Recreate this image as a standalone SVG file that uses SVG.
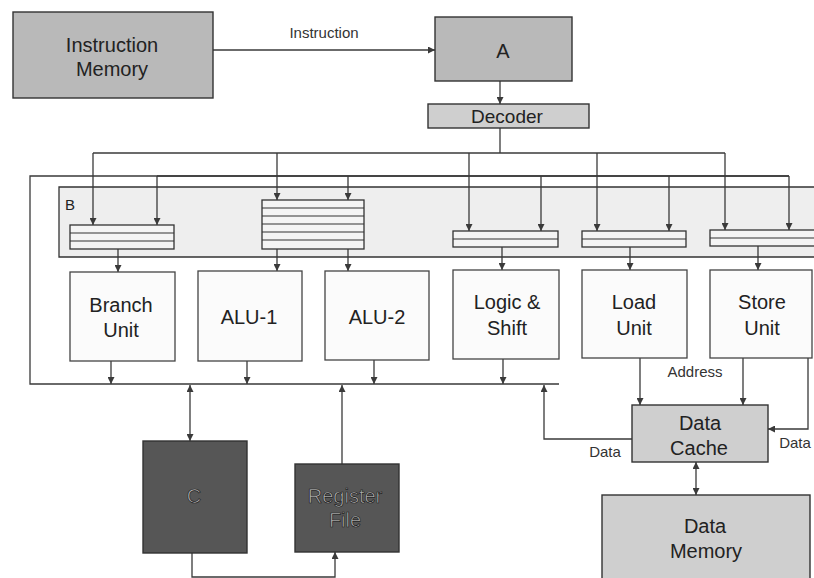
<svg xmlns="http://www.w3.org/2000/svg" width="814" height="578" viewBox="0 0 814 578">
<defs>
<marker id="ah" viewBox="0 0 10 10" refX="10" refY="5" markerWidth="7" markerHeight="7" markerUnits="userSpaceOnUse" orient="auto-start-reverse">
<path d="M0,0 L10,5 L0,10 z" fill="#3a3a3a"/>
</marker>
</defs>
<style>
.box{stroke:#333;stroke-width:1.4}
.mid{fill:#b9b9b9}
.light{fill:#cfcfcf}
.dark{fill:#565656}
.unit{fill:#fbfbfb;stroke:#444;stroke-width:1.3}
.stack{fill:#f4f4f4;stroke:#333;stroke-width:1.3}
.row{stroke:#333;stroke-width:1.2;fill:none}
.ln{fill:none;stroke:#3a3a3a;stroke-width:1.3}
.arr{fill:none;stroke:#3a3a3a;stroke-width:1.3;marker-end:url(#ah)}
.bi{fill:none;stroke:#3a3a3a;stroke-width:1.3;marker-start:url(#ah);marker-end:url(#ah)}
text{font-family:"Liberation Sans",Arial,sans-serif;text-anchor:middle;fill:#222}
.big{font-size:20px}
.lbl{font-size:15px;fill:#333}
.dk{fill:#b4b4b4;stroke:#1e1e1e;stroke-width:0.7}
</style>

<g id="outer">
<path class="ln" d="M559,384 H30 V176 H789"/>
</g>

<g id="B">
<path d="M814,187 H59 V257 H814" fill="#eeeeee" stroke="#333" stroke-width="1.3"/>
<text x="70" y="210" style="font-size:15px" fill="#333">B</text>
</g>

<g id="stack-branch">
<rect class="stack" x="70" y="225" width="104" height="24"/>
<path class="row" d="M70,233 H174 M70,241 H174"/>
</g>
<g id="stack-alu">
<rect class="stack" x="262" y="200" width="102" height="49"/>
<path class="row" d="M262,208 H364 M262,216 H364 M262,224 H364 M262,232 H364 M262,240 H364"/>
</g>
<g id="stack-logic">
<rect class="stack" x="453" y="231" width="105" height="16"/>
<path class="row" d="M453,239 H558"/>
</g>
<g id="stack-load">
<rect class="stack" x="582" y="231" width="104" height="16"/>
<path class="row" d="M582,239 H686"/>
</g>
<g id="stack-store">
<rect class="stack" x="710" y="230" width="110" height="16"/>
<path class="row" d="M710,238 H820"/>
</g>

<g id="connectors">
<path class="arr" d="M213,50 H435"/>
<path class="arr" d="M500,81 V104"/>
<path class="ln" d="M500,128 V153"/>
<path class="ln" d="M93,153 H725"/>
<path class="arr" d="M93,153 V225"/>
<path class="arr" d="M277,153 V200"/>
<path class="arr" d="M469,153 V231"/>
<path class="arr" d="M597,153 V231"/>
<path class="arr" d="M725,153 V230"/>
<path class="ln" d="M157,176 H789"/>
<path class="arr" d="M157,176 V225"/>
<path class="arr" d="M348,176 V200"/>
<path class="arr" d="M541,176 V231"/>
<path class="arr" d="M669,176 V231"/>
<path class="arr" d="M789,176 V230"/>
<path class="arr" d="M118,249 V272"/>
<path class="arr" d="M277,249 V271"/>
<path class="arr" d="M348,249 V271"/>
<path class="arr" d="M502,247 V270"/>
<path class="arr" d="M630,247 V270"/>
<path class="arr" d="M758,246 V270"/>
<path class="arr" d="M111,361 V384"/>
<path class="arr" d="M247,361 V384"/>
<path class="arr" d="M374,360 V384"/>
<path class="arr" d="M503,359 V384"/>
<path class="bi" d="M190,385 V441"/>
<path class="arr" d="M342,464 V385"/>
<path class="arr" d="M192,553 V577 H335 V552"/>
<path class="arr" d="M640,358 V405"/>
<path class="arr" d="M743,358 V405"/>
<path class="arr" d="M808,358 V429 H768"/>
<path class="arr" d="M632,439 H544 V385"/>
<path class="bi" d="M696,462 V495"/>
<text class="lbl" x="324" y="38">Instruction</text>
<text class="lbl" x="695" y="377">Address</text>
<text class="lbl" x="605" y="457">Data</text>
<text class="lbl" x="795" y="448">Data</text>
</g>

<g id="instruction-memory">
<rect class="box mid" x="13" y="12" width="200" height="86"/>
<text class="big" x="112" y="52">Instruction</text>
<text class="big" x="112" y="76">Memory</text>
</g>
<g id="A">
<rect class="box mid" x="435" y="17" width="137" height="64"/>
<text class="big" x="503" y="58">A</text>
</g>
<g id="decoder">
<rect class="box light" x="428" y="104" width="161" height="24"/>
<text x="507" y="123" style="font-size:19px">Decoder</text>
</g>

<g id="branch-unit">
<rect class="unit" x="70" y="272" width="105" height="89"/>
<text class="big" x="121" y="312">Branch</text>
<text class="big" x="121" y="337">Unit</text>
</g>
<g id="alu-1">
<rect class="unit" x="198" y="271" width="104" height="90"/>
<text class="big" x="249" y="324">ALU-1</text>
</g>
<g id="alu-2">
<rect class="unit" x="325" y="271" width="104" height="89"/>
<text class="big" x="377" y="324">ALU-2</text>
</g>
<g id="logic-shift">
<rect class="unit" x="453" y="270" width="106" height="89"/>
<text class="big" x="507" y="309">Logic &amp;</text>
<text class="big" x="507" y="335">Shift</text>
</g>
<g id="load-unit">
<rect class="unit" x="582" y="270" width="105" height="88"/>
<text class="big" x="634" y="309">Load</text>
<text class="big" x="634" y="335">Unit</text>
</g>
<g id="store-unit">
<rect class="unit" x="710" y="270" width="102" height="88"/>
<text class="big" x="762" y="309">Store</text>
<text class="big" x="762" y="335">Unit</text>
</g>

<g id="C">
<rect class="box dark" x="143" y="441" width="104" height="112"/>
<text class="big dk" x="194" y="503">C</text>
</g>
<g id="register-file">
<rect class="box dark" x="295" y="464" width="104" height="88"/>
<text class="big dk" x="345" y="503">Register</text>
<text class="big dk" x="345" y="527">File</text>
</g>

<g id="data-cache">
<rect class="box light" x="632" y="405" width="136" height="57"/>
<text class="big" x="700" y="430">Data</text>
<text class="big" x="699" y="455">Cache</text>
</g>
<g id="data-memory">
<rect class="box light" x="602" y="495" width="208" height="90"/>
<text class="big" x="705" y="533">Data</text>
<text class="big" x="706" y="558">Memory</text>
</g>
</svg>
